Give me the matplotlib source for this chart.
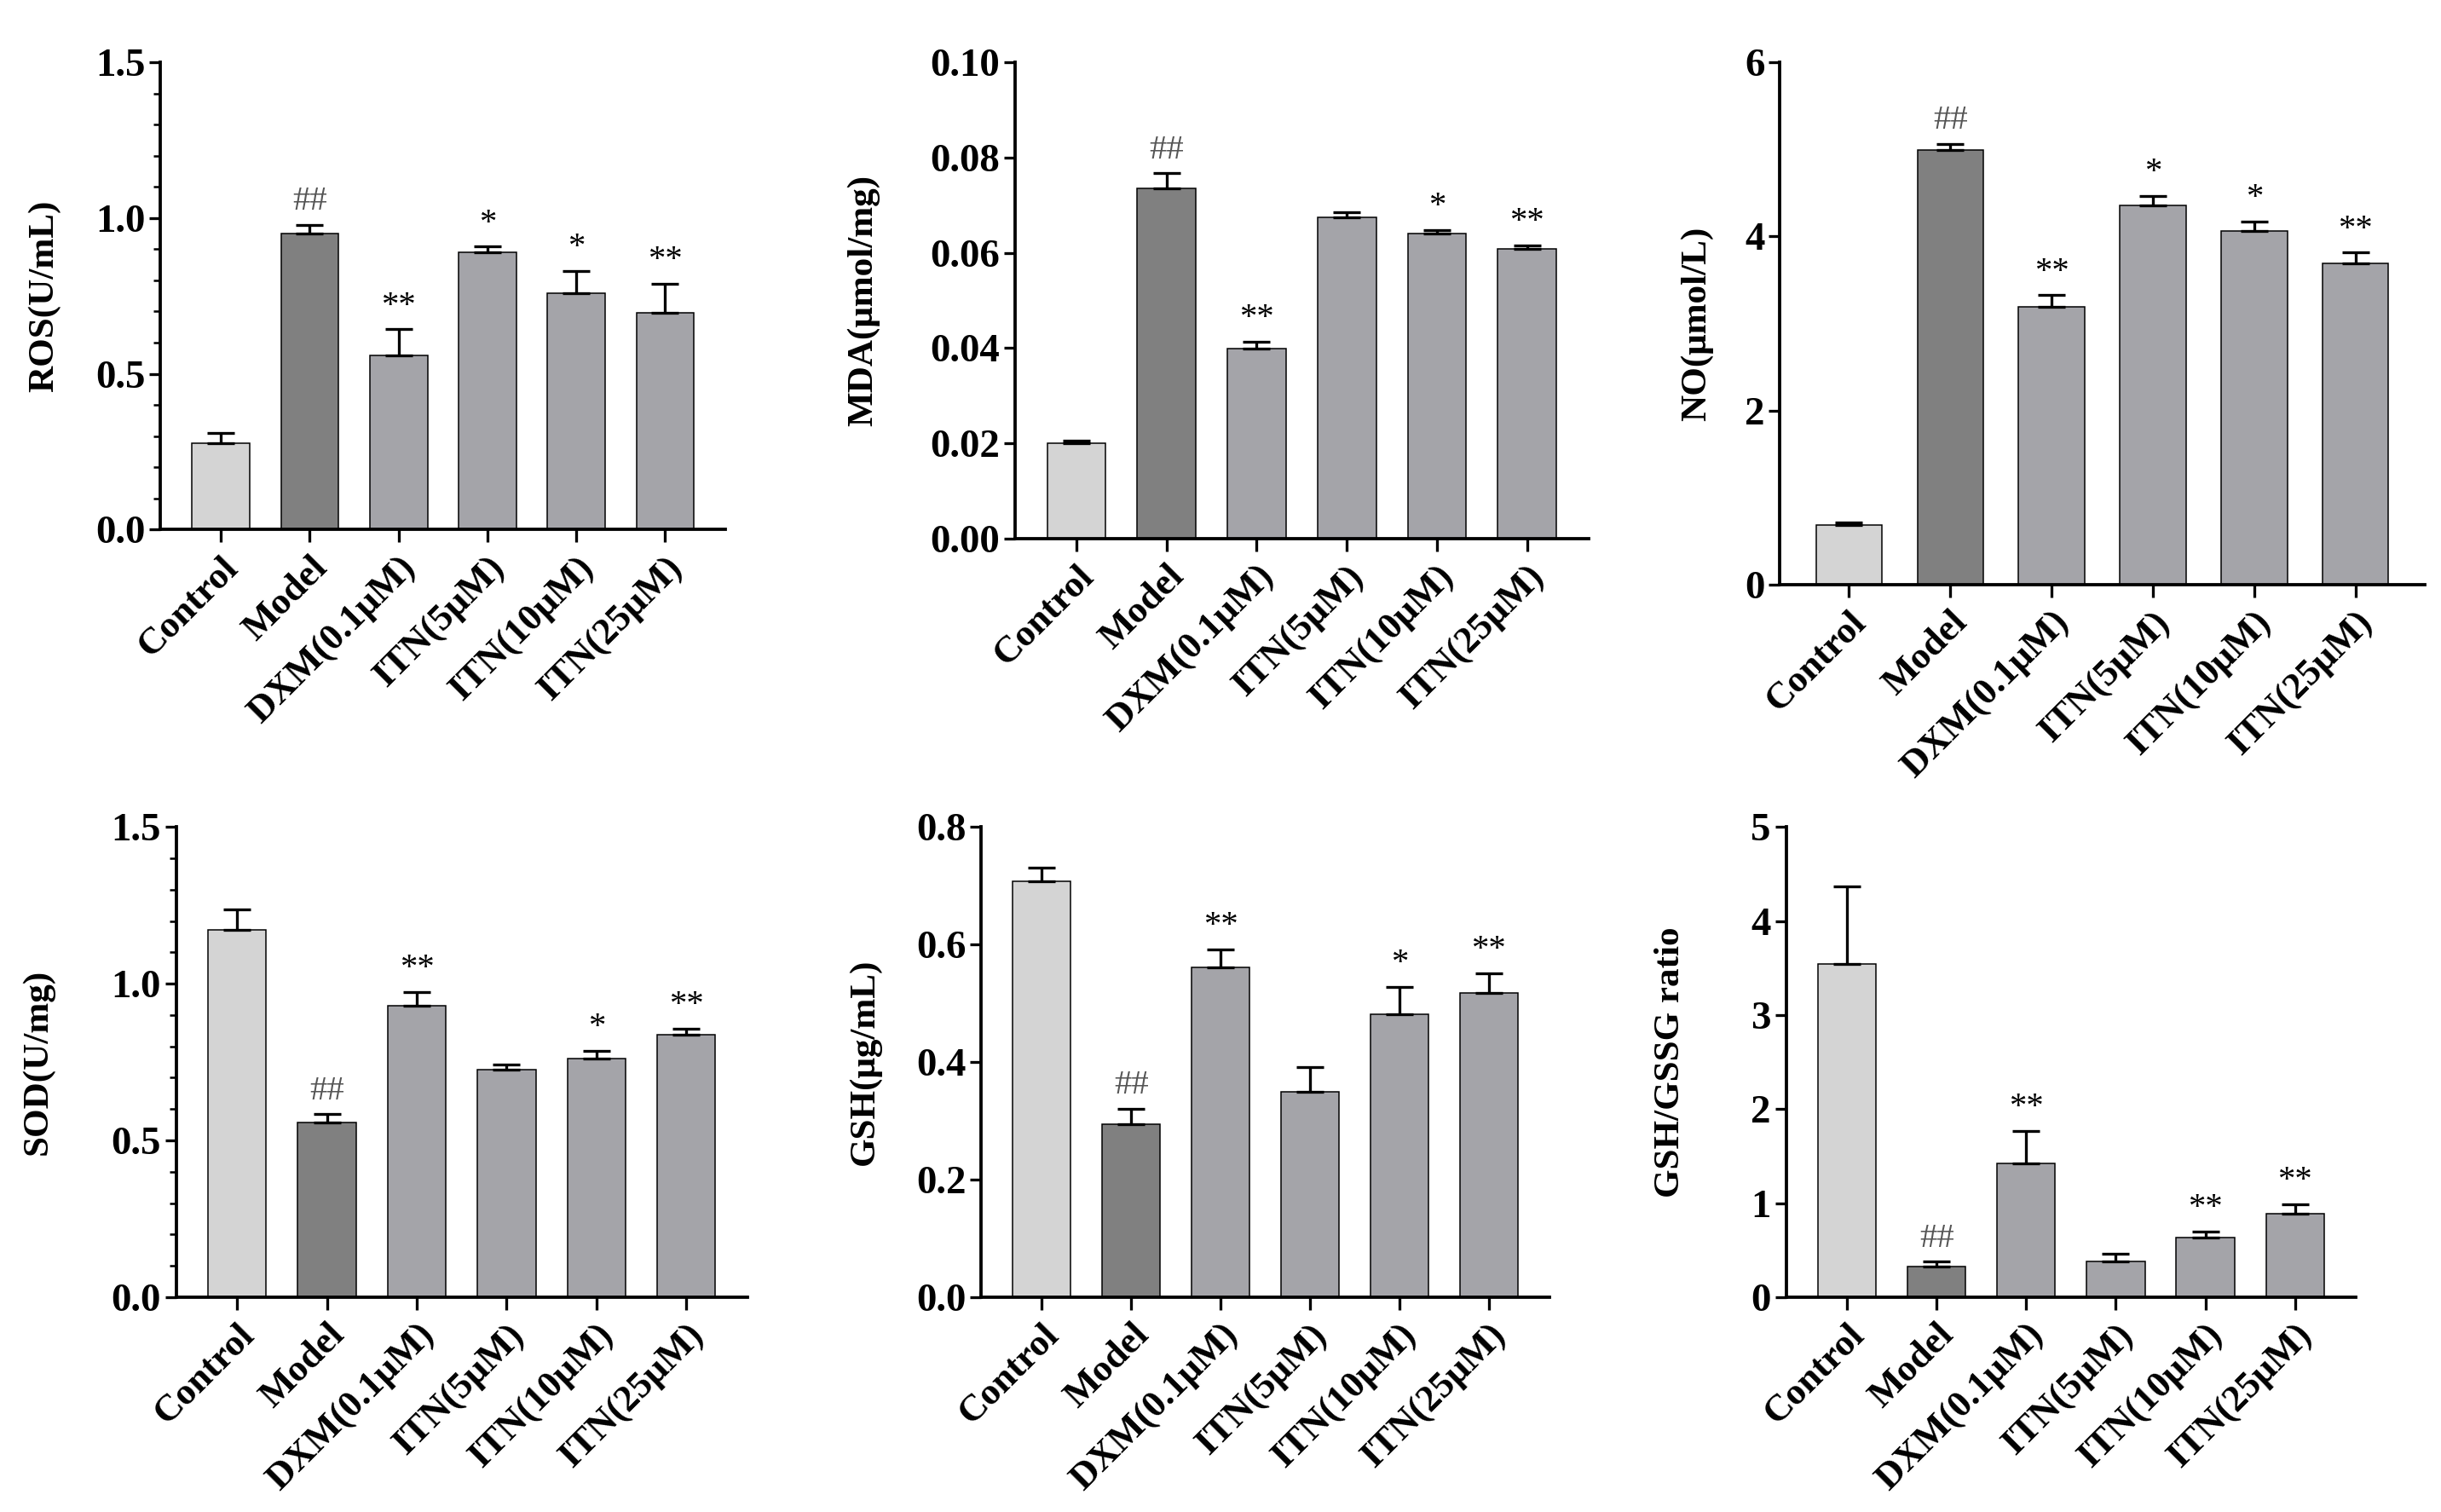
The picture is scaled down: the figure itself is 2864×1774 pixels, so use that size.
import numpy as np
import matplotlib.pyplot as plt
from matplotlib.ticker import MultipleLocator, FormatStrFormatter

plt.rcParams['font.family'] = ['Liberation Serif', 'DejaVu Serif']
plt.rcParams['font.weight'] = 'bold'
plt.rcParams['axes.labelweight'] = 'bold'

groups = ['Control', 'Model', 'DXM(0.1μM)', 'ITN(5μM)', 'ITN(10μM)', 'ITN(25μM)']
bar_colors = ['#d4d4d4', '#808080', '#a4a4a9', '#a4a4a9', '#a4a4a9', '#a4a4a9']

ros = [0.277, 0.951, 0.558, 0.891, 0.758, 0.695]
ros_err = [0.032, 0.026, 0.085, 0.017, 0.073, 0.094]
ros_sig = ['', '##', '**', '*', '*', '**']

mda = [0.0200, 0.0735, 0.0399, 0.0674, 0.0640, 0.0608]
mda_err = [0.0006, 0.0032, 0.0014, 0.0012, 0.0008, 0.0008]
mda_sig = ['', '##', '**', '', '*', '**']

no = [0.683, 4.99, 3.194, 4.357, 4.063, 3.69]
no_err = [0.034, 0.07, 0.13, 0.107, 0.107, 0.125]
no_sig = ['', '##', '**', '*', '*', '**']

sod = [1.172, 0.556, 0.930, 0.725, 0.762, 0.837]
sod_err = [0.066, 0.027, 0.043, 0.018, 0.023, 0.019]
sod_sig = ['', '##', '**', '', '*', '**']

gsh = [0.708, 0.294, 0.561, 0.350, 0.481, 0.517]
gsh_err = [0.022, 0.026, 0.031, 0.042, 0.047, 0.034]
gsh_sig = ['', '##', '**', '', '*', '**']

ratio = [3.54, 0.326, 1.426, 0.38, 0.632, 0.884]
ratio_err = [0.83, 0.05, 0.341, 0.08, 0.068, 0.106]
ratio_sig = ['', '##', '**', '', '**', '**']

fig = plt.figure(figsize=(15.68, 9.71), dpi=182.7)

# panel: rect, values, errors, marks, ylabel, ymax, major step, minor step, fmt, label x
panels = [
    ([0.0657, 0.6498, 0.2315, 0.3090], ros, ros_err, ros_sig, 'ROS(U/mL)', 1.5, 0.5, 0.1, '%.1f', -0.176),
    ([0.4158, 0.6437, 0.2347, 0.3151], mda, mda_err, mda_sig, 'MDA(μmol/mg)', 0.10, 0.02, None, '%.2f', -0.236),
    ([0.7290, 0.6133, 0.2640, 0.3455], no, no_err, no_sig, 'NO(μmol/L)', 6, 2, None, '%d', -0.104),
    ([0.0721, 0.1421, 0.2340, 0.3110], sod, sod_err, sod_sig, 'SOD(U/mg)', 1.5, 0.5, 0.1, '%.1f', -0.2125),
    ([0.4018, 0.1421, 0.2328, 0.3110], gsh, gsh_err, gsh_sig, 'GSH(μg/mL)', 0.8, 0.2, None, '%.1f', -0.175),
    ([0.7315, 0.1421, 0.2334, 0.3110], ratio, ratio_err, ratio_sig, 'GSH/GSSG ratio', 5, 1, None, '%d', -0.175),
]

x = np.arange(len(groups))
for rect, vals, errs, sig, ylab, ymax, step, minor, fmt, labx in panels:
    ax = fig.add_axes(rect)
    ax.bar(x, vals, 0.65, color=bar_colors, edgecolor='black', linewidth=0.6, zorder=2)
    ax.errorbar(x, vals, yerr=[np.zeros(len(vals)), errs], fmt='none', ecolor='black',
                elinewidth=1.3, capsize=6.5, capthick=1.3, zorder=3)
    for xi, v, e, s in zip(x, vals, errs, sig):
        if s:
            ax.annotate(s, (xi, v + e), xytext=(0, 7), textcoords='offset points',
                        ha='center', va='baseline', fontsize=16, fontweight='normal',
                        color='#555555' if s.startswith('#') else 'black')
    ax.set_xlim(-0.68, 5.68)
    ax.set_ylim(0, ymax)
    ax.yaxis.set_major_locator(MultipleLocator(step))
    ax.yaxis.set_major_formatter(FormatStrFormatter(fmt))
    if minor:
        ax.yaxis.set_minor_locator(MultipleLocator(minor))
    ax.set_xticks(x)
    ax.set_xticklabels(groups, rotation=45, ha='right', rotation_mode='anchor', fontsize=17.5)
    ax.tick_params(axis='y', labelsize=18.5, width=1.3, length=5, pad=2)
    ax.tick_params(axis='y', which='minor', width=1.0, length=3)
    ax.tick_params(axis='x', width=1.3, length=6)
    ax.set_ylabel(ylab, fontsize=17)
    ax.yaxis.set_label_coords(labx, 0.5)
    for side in ['top', 'right']:
        ax.spines[side].set_visible(False)
    for side in ['left', 'bottom']:
        ax.spines[side].set_linewidth(1.5)

fig.savefig('out.png', dpi=182.7)
